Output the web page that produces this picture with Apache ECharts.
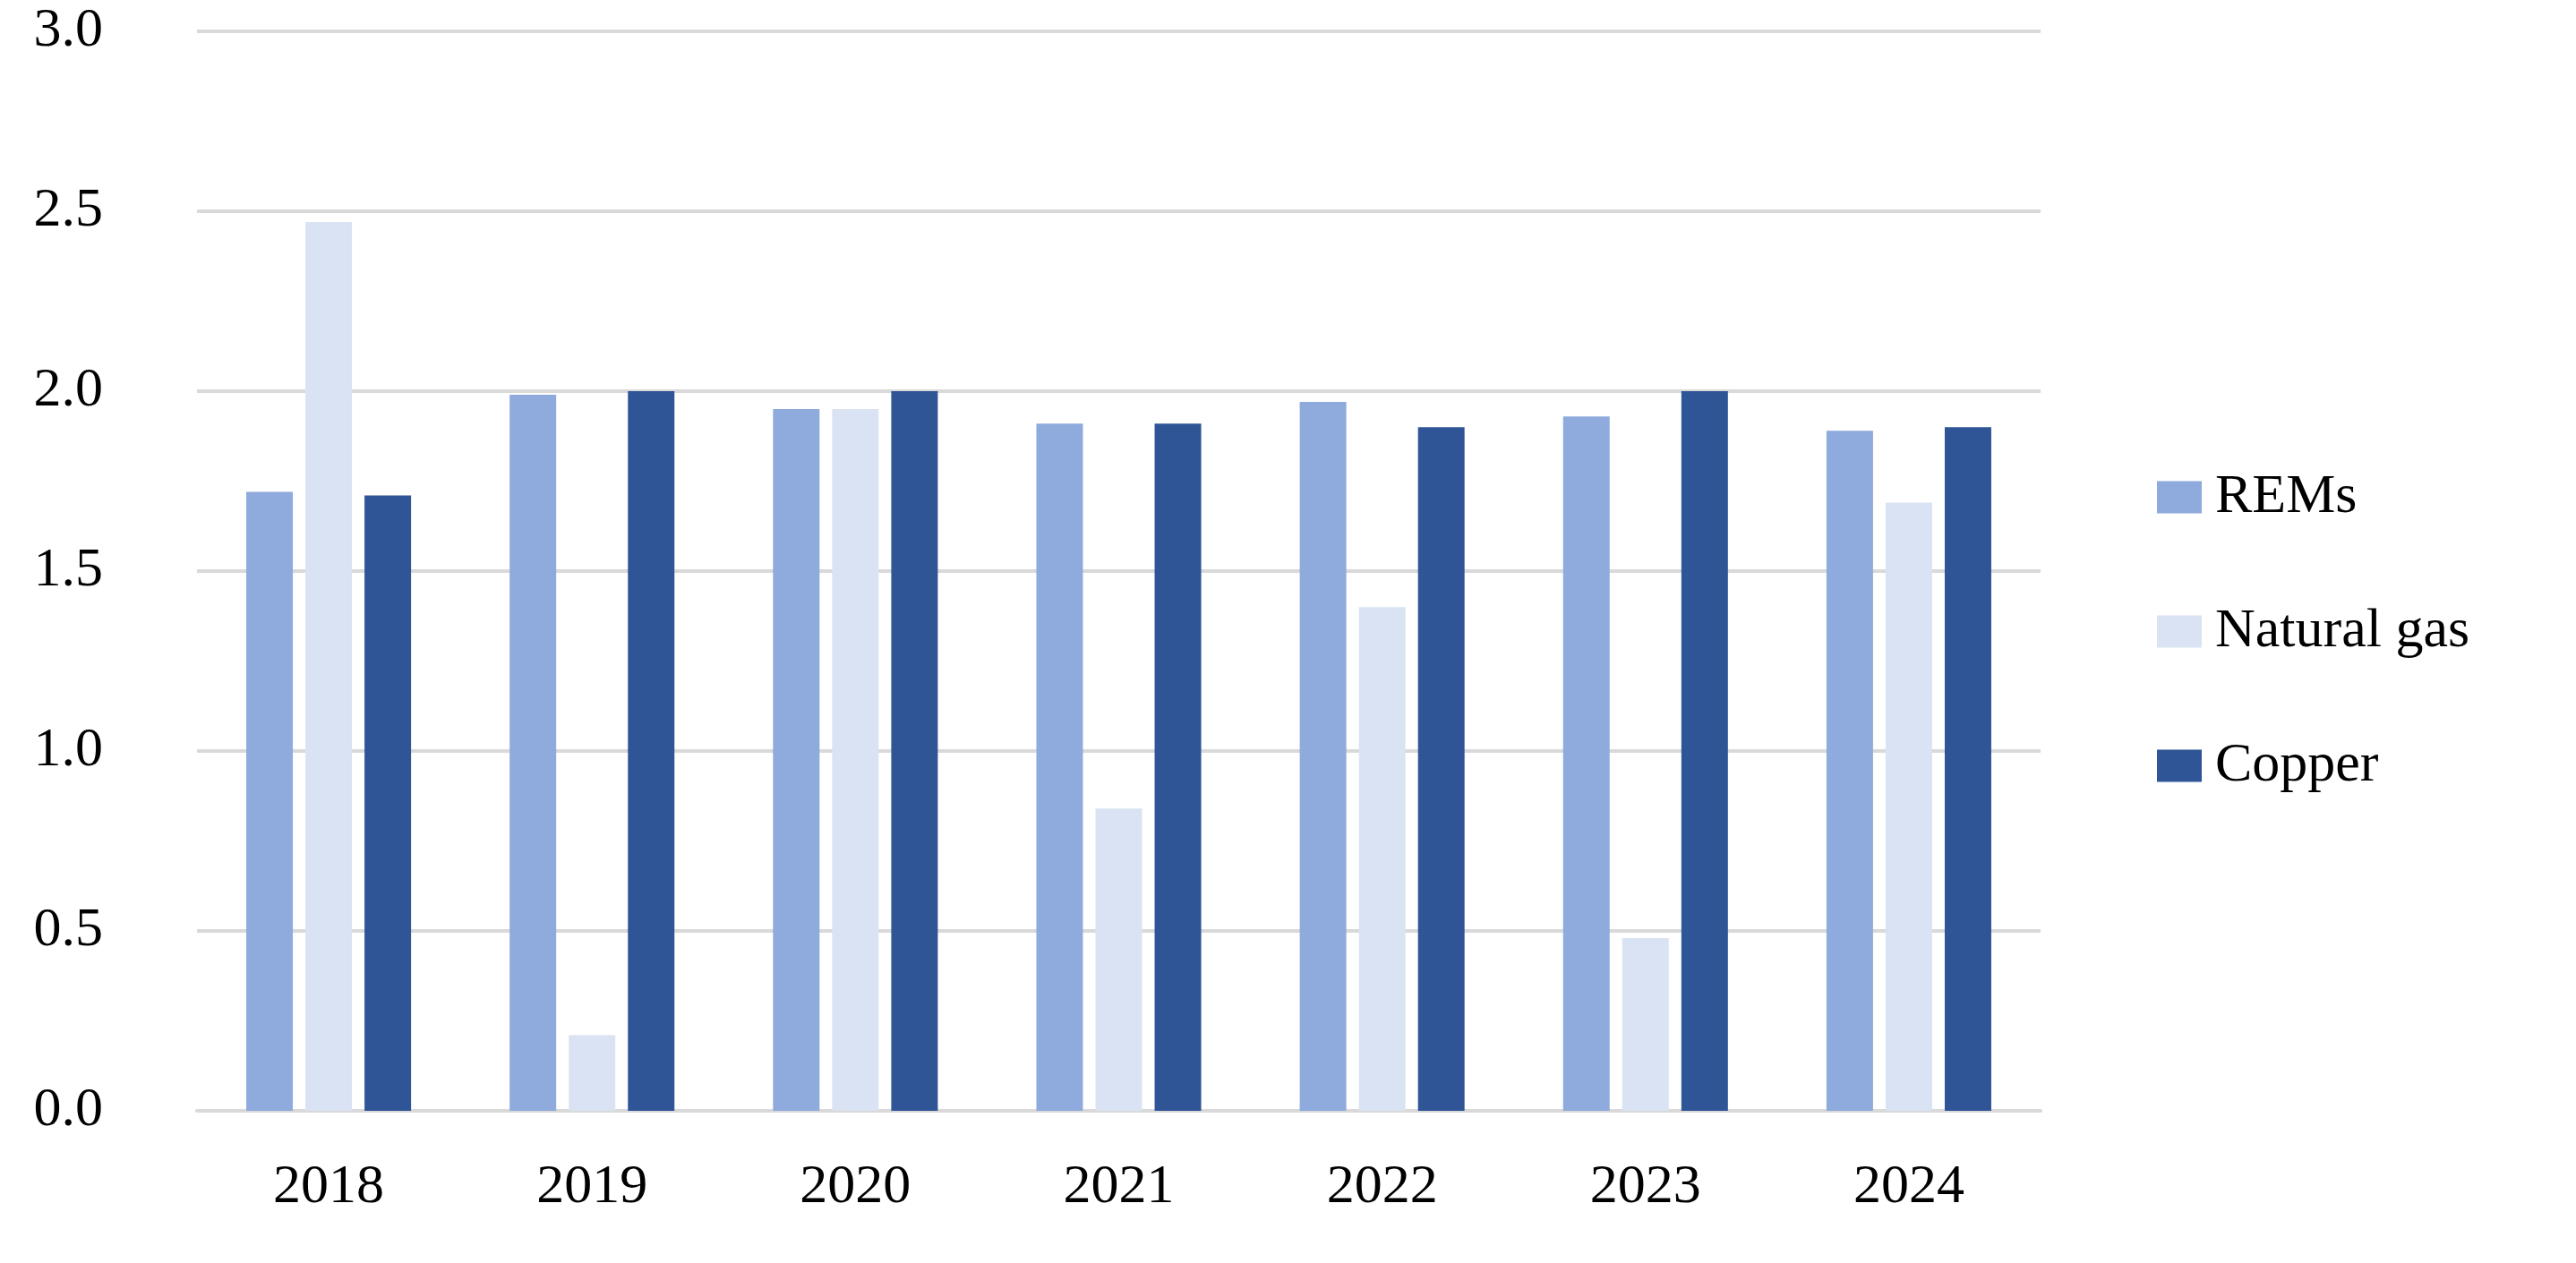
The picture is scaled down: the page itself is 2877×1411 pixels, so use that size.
<!DOCTYPE html>
<html>
<head>
<meta charset="utf-8">
<script src="https://cdn.jsdelivr.net/npm/echarts@6/dist/echarts.min.js"></script>
<style>html,body{margin:0;padding:0;background:#fff}#chart{width:2877px;height:1411px}</style>
</head>
<body>
<div id="chart"></div>
<script>
const years = ['2018', '2019', '2020', '2021', '2022', '2023', '2024'];
const rems = [1.72, 1.99, 1.95, 1.91, 1.97, 1.93, 1.89];
const naturalGas = [2.47, 0.21, 1.95, 0.84, 1.40, 0.48, 1.69];
const copper = [1.71, 2.00, 2.00, 1.91, 1.90, 2.00, 1.90];
const yTicks = [0, 0.5, 1.0, 1.5, 2.0, 2.5, 3.0];

const font = '"Liberation Serif", "DejaVu Serif", serif';
const chart = echarts.init(document.getElementById('chart'));
const bar = (name, data, color) => ({
    name: name,
    type: 'bar',
    data: data,
    barWidth: 52,
    barGap: '27%',
    itemStyle: { color: color }
});
chart.setOption({
    animation: false,
    textStyle: { fontFamily: font },
    grid: { left: 220, right: 598, top: 35, bottom: 170 },
    legend: {
        orient: 'vertical',
        left: 2404,
        top: 'middle',
        icon: 'rect',
        itemWidth: 50,
        itemHeight: 36,
        itemGap: 88,
        textStyle: { fontSize: 62, color: '#000', fontFamily: font, padding: [0, 0, 0, 10] },
        data: ['REMs', 'Natural gas', 'Copper']
    },
    xAxis: {
        type: 'category',
        data: years,
        axisTick: { show: false },
        axisLine: { lineStyle: { color: '#d9d9d9', width: 4 } },
        axisLabel: { fontSize: 62, color: '#000', margin: 55 }
    },
    yAxis: {
        type: 'value',
        min: yTicks[0],
        max: yTicks[yTicks.length - 1],
        interval: 0.5,
        axisLine: { show: false },
        axisTick: { show: false },
        axisLabel: { fontSize: 62, color: '#000', margin: 105, formatter: v => v.toFixed(1) },
        splitLine: { lineStyle: { color: '#d9d9d9', width: 4 } }
    },
    series: [
        bar('REMs', rems, '#8faadc'),
        bar('Natural gas', naturalGas, '#dae3f3'),
        bar('Copper', copper, '#2f5597')
    ]
});
</script>
</body>
</html>
